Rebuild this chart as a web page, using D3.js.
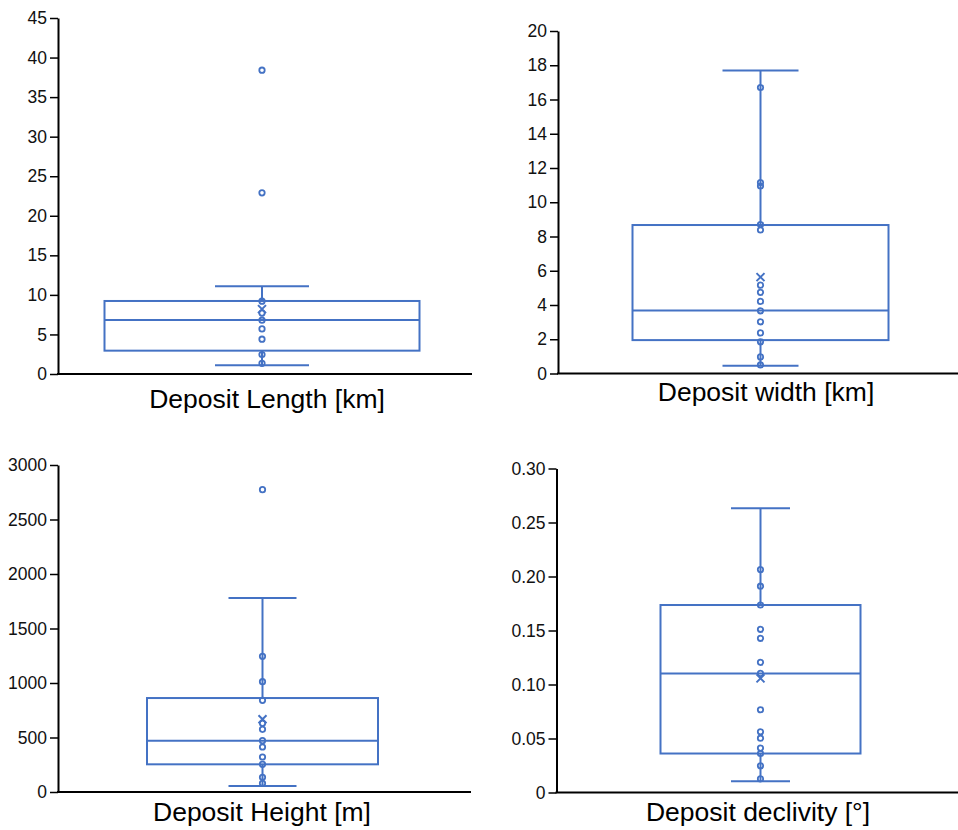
<!DOCTYPE html>
<html>
<head>
<meta charset="utf-8">
<script src="https://cdn.jsdelivr.net/npm/d3@7"></script>
<style>
  body { margin: 0; background: #fff; }
  svg { display: block; font-family: "Liberation Sans", Arial, sans-serif; }
</style>
</head>
<body>
<div id="chart"></div>
<script>
// values
const titles = ["Deposit Length [km]", "Deposit width [km]", "Deposit Height [m]", "Deposit declivity [°]"];

const lengthStats = { min: 1.1, q1: 2.95, median: 6.83, q3: 9.23, max: 11.08, mean: 8.2 };
const lengthPoints = [38.4, 22.9, 9.2, 7.7, 6.8, 5.7, 4.4, 2.45, 1.35];

const widthStats = { min: 0.45, q1: 1.95, median: 3.68, q3: 8.67, max: 17.7, mean: 5.63 };
const widthPoints = [16.7, 11.15, 10.95, 8.7, 8.38, 5.16, 4.74, 4.21, 3.66, 3.02, 2.37, 1.85, 0.97, 0.5];

const heightStats = { min: 55, q1: 254, median: 471, q3: 862, max: 1780, mean: 667 };
const heightPoints = [2774, 1245, 1012, 841, 630, 575, 471, 413, 321, 254, 135, 80];

const declivityStats = { min: 0.0105, q1: 0.0361, median: 0.1103, q3: 0.1736, max: 0.2633, mean: 0.1057 };
const declivityPoints = [0.2064, 0.191, 0.1736, 0.1511, 0.1428, 0.1205, 0.1103, 0.0766, 0.0562, 0.0503, 0.0411, 0.0361, 0.0247, 0.0126];

const tickSets = [
  d3.range(0, 46, 5),
  d3.range(0, 21, 2),
  d3.range(0, 3001, 500),
  [0, 0.05, 0.10, 0.15, 0.20, 0.25, 0.30]
];

const width = 958, height = 830;
const blue = "#4472c4";

const svg = d3.select("#chart")
  .append("svg")
  .attr("width", width)
  .attr("height", height);

// layout for each of the four panels
const panels = [
  { stats: lengthStats, points: lengthPoints, ticks: tickSets[0], title: titles[0],
    axisX: 58, right: 472, y0: 374, y1: 18, cx: 262, boxW: 315, capW: 94, titleX: 267, titleY: 408, fmt: d3.format("d") },
  { stats: widthStats, points: widthPoints, ticks: tickSets[1], title: titles[1],
    axisX: 558, right: 958, y0: 373.5, y1: 31, cx: 760.5, boxW: 256, capW: 76, titleX: 766, titleY: 401, fmt: d3.format("d") },
  { stats: heightStats, points: heightPoints, ticks: tickSets[2], title: titles[2],
    axisX: 58, right: 471, y0: 792, y1: 465, cx: 262.5, boxW: 231, capW: 68, titleX: 262, titleY: 821, fmt: d3.format("d") },
  { stats: declivityStats, points: declivityPoints, ticks: tickSets[3], title: titles[3],
    axisX: 556.5, right: 958, y0: 792.5, y1: 468.5, cx: 760.5, boxW: 200, capW: 59, titleX: 758, titleY: 821,
    fmt: d => d === 0 ? "0" : d3.format(".2f")(d) }
];

panels.forEach(p => {
  const top = p.ticks[p.ticks.length - 1];
  const y = d3.scaleLinear().domain([0, top]).range([p.y0, p.y1]);
  const x = d3.scaleBand().domain([p.title]).range([p.cx - p.boxW / 2, p.cx + p.boxW / 2]);
  const g = svg.append("g");
  const s = p.stats;
  const cx = x(p.title) + x.bandwidth() / 2;

  // whiskers, outside the box only
  g.selectAll(".whisker")
    .data([[s.q3, s.max], [s.min, s.q1]])
    .join("line")
    .attr("x1", cx).attr("x2", cx)
    .attr("y1", d => y(d[0])).attr("y2", d => y(d[1]))
    .attr("stroke", blue).attr("stroke-width", 2);
  g.selectAll(".cap")
    .data([s.min, s.max])
    .join("line")
    .attr("x1", cx - p.capW / 2).attr("x2", cx + p.capW / 2)
    .attr("y1", d => y(d)).attr("y2", d => y(d))
    .attr("stroke", blue).attr("stroke-width", 2);

  // box
  g.append("rect")
    .attr("x", x(p.title))
    .attr("width", x.bandwidth())
    .attr("y", y(s.q3))
    .attr("height", y(s.q1) - y(s.q3))
    .attr("fill", "none")
    .attr("stroke", blue).attr("stroke-width", 2);
  g.append("line")
    .attr("x1", x(p.title)).attr("x2", x(p.title) + x.bandwidth())
    .attr("y1", y(s.median)).attr("y2", y(s.median))
    .attr("stroke", blue).attr("stroke-width", 2);

  // points
  g.selectAll("circle")
    .data(p.points)
    .join("circle")
    .attr("cx", cx)
    .attr("cy", d => y(d))
    .attr("r", 2.7)
    .attr("fill", "none")
    .attr("stroke", blue)
    .attr("stroke-width", 1.8);

  // mean marker
  const m = 4;
  g.append("path")
    .attr("d", `M${cx - m},${y(s.mean) - m}L${cx + m},${y(s.mean) + m}M${cx - m},${y(s.mean) + m}L${cx + m},${y(s.mean) - m}`)
    .attr("stroke", blue).attr("stroke-width", 2);

  // axes
  const yAxis = g.append("g")
    .attr("transform", `translate(${p.axisX},0)`)
    .call(d3.axisLeft(y).tickValues(p.ticks).tickFormat(p.fmt).tickSize(8).tickPadding(3).tickSizeOuter(0));
  yAxis.select(".domain").attr("stroke", "#000").attr("stroke-width", 2);
  yAxis.selectAll(".tick line").attr("stroke", "#000").attr("stroke-width", 1.5);
  yAxis.selectAll(".tick text")
    .attr("fill", "#111")
    .style("font-size", "17.5px")
    .style("font-family", "'Liberation Sans', Arial, sans-serif");

  g.append("line")
    .attr("x1", p.axisX - 1).attr("x2", p.right)
    .attr("y1", p.y0).attr("y2", p.y0)
    .attr("stroke", "#000").attr("stroke-width", 2);

  g.append("text")
    .attr("x", p.titleX)
    .attr("y", p.titleY)
    .attr("text-anchor", "middle")
    .attr("fill", "#000")
    .style("font-size", "26.5px")
    .text(p.title);
});
</script>
</body>
</html>
